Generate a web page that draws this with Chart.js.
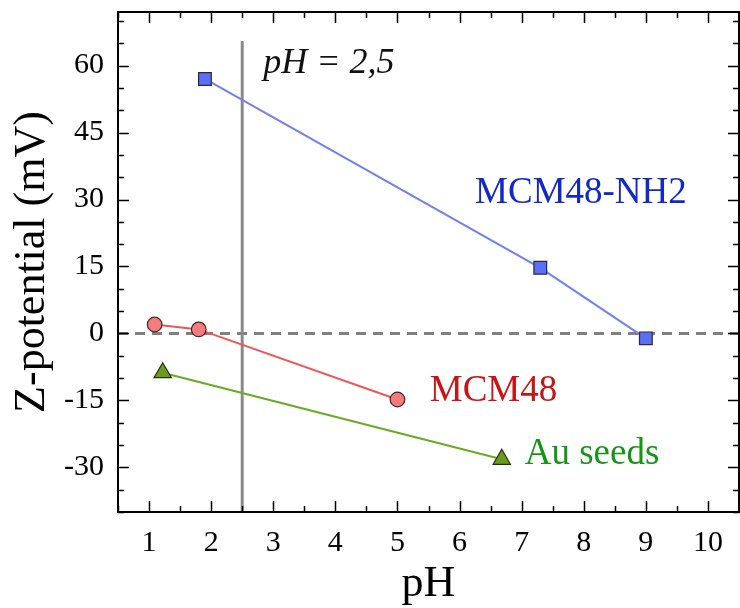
<!DOCTYPE html>
<html>
<head>
<meta charset="utf-8">
<script src="https://cdn.jsdelivr.net/npm/chart.js@4.4.1/dist/chart.umd.min.js"></script>
<style>
  html, body { margin: 0; padding: 0; background: #fff; }
  #wrap { width: 740px; height: 608px; }
</style>
</head>
<body>
<div id="wrap"><canvas id="zetaChart" width="740" height="608"></canvas></div>
<script>
// Z-potential vs pH

const xTickValues = [1, 2, 3, 4, 5, 6, 7, 8, 9, 10];
const yTickValues = [-30, -15, 0, 15, 30, 45, 60];

const nh2Ph = [1.9, 7.3, 9.0];
const nh2Zeta = [57, 14.7, -1.1];

const mcmPh = [1.09, 1.8, 5.0];
const mcmZeta = [2.0, 0.9, -14.8];

const auPh = [1.22, 6.68];
const auZeta = [-8.8, -28.2];

const markerPh = [2.5, 2.5];
const markerZeta = [-40, 65.5];

const zeroPh = [0.5, 10.5];
const zeroZeta = [0, 0];

const serif = '"Liberation Serif", "Times New Roman", serif';

function toPoints(xs, ys) {
  return xs.map((x, i) => ({ x: x, y: ys[i] }));
}

// inward ticks on all four sides + frame + text labels
const framePlugin = {
  id: 'framePlugin',
  afterDatasetsDraw(chart) {
    const { ctx, chartArea: a, scales: { x, y } } = chart;
    ctx.save();
    ctx.strokeStyle = '#000';
    ctx.lineWidth = 1.5;
    ctx.beginPath();
    const xStep = 0.5, yStep = 5;
    for (let v = x.min; v <= x.max + 1e-6; v += xStep) {
      const px = Math.round(x.getPixelForValue(v)) + 0.5;
      const len = Number.isInteger(v) ? 11 : 6;
      ctx.moveTo(px, a.bottom); ctx.lineTo(px, a.bottom - len);
      ctx.moveTo(px, a.top); ctx.lineTo(px, a.top + len);
    }
    for (let v = Math.ceil(y.min / yStep) * yStep; v <= y.max + 1e-6; v += yStep) {
      const py = Math.round(y.getPixelForValue(v)) + 0.5;
      const len = v % 15 === 0 ? 11 : 6;
      ctx.moveTo(a.left, py); ctx.lineTo(a.left + len, py);
      ctx.moveTo(a.right, py); ctx.lineTo(a.right - len, py);
    }
    ctx.stroke();
    ctx.lineWidth = 2;
    ctx.strokeRect(a.left, a.top, a.right - a.left, a.bottom - a.top);

    ctx.textBaseline = 'alphabetic';
    ctx.textAlign = 'left';
    ctx.font = 'italic 36px ' + serif;
    ctx.fillStyle = '#111';
    ctx.fillText('pH = 2,5', x.getPixelForValue(2.84), y.getPixelForValue(58.3));
    ctx.font = '37px ' + serif;
    ctx.fillStyle = '#1428c8';
    ctx.fillText('MCM48-NH2', x.getPixelForValue(6.25), y.getPixelForValue(29.3));
    ctx.fillStyle = '#c81414';
    ctx.fillText('MCM48', x.getPixelForValue(5.52), y.getPixelForValue(-15.05));
    ctx.fillStyle = '#149614';
    ctx.fillText('Au seeds', x.getPixelForValue(7.05), y.getPixelForValue(-29.3));
    ctx.restore();
  }
};

new Chart(document.getElementById('zetaChart'), {
  type: 'scatter',
  data: {
    datasets: [{
      label: 'MCM48-NH2',
      data: toPoints(nh2Ph, nh2Zeta),
      showLine: true,
      borderColor: '#6f80f2',
      borderWidth: 2,
      pointStyle: 'rect',
      pointRadius: 9,
      pointBackgroundColor: '#5a6ef6',
      pointBorderColor: '#2a2a3a',
      pointBorderWidth: 1.2
    },
    {
      label: 'MCM48',
      data: toPoints(mcmPh, mcmZeta),
      showLine: true,
      borderColor: '#ee5555',
      borderWidth: 2,
      pointStyle: 'circle',
      pointRadius: 7.3,
      pointBackgroundColor: '#f77b7b',
      pointBorderColor: '#3a2a2a',
      pointBorderWidth: 1.2
    },
    {
      label: 'Au seeds',
      data: toPoints(auPh, auZeta),
      showLine: true,
      borderColor: '#6aaa22',
      borderWidth: 2,
      pointStyle: 'triangle',
      pointRadius: 10,
      pointBackgroundColor: '#6b9b1c',
      pointBorderColor: '#233010',
      pointBorderWidth: 1.2
    },
    {
      label: 'pH 2.5',
      data: toPoints(markerPh, markerZeta),
      showLine: true,
      borderColor: '#8a8a8a',
      borderWidth: 3,
      pointRadius: 0
    },
    {
      label: 'zero',
      data: toPoints(zeroPh, zeroZeta),
      showLine: true,
      borderColor: '#808080',
      borderWidth: 3,
      borderDash: [10, 7],
      pointRadius: 0
    }]
  },
  options: {
    responsive: false,
    animation: false,
    events: [],
    layout: { autoPadding: false, padding: { top: 12, right: 1, left: 0, bottom: 0 } },
    plugins: {
      legend: { display: false },
      tooltip: { enabled: false }
    },
    scales: {
      x: {
        type: 'linear',
        min: 0.5,
        max: 10.5,
        afterBuildTicks: (scale) => { scale.ticks = xTickValues.map(v => ({ value: v })); },
        afterFit: (scale) => {
          scale.height = 96;
          scale.paddingLeft = 0;
          scale.paddingRight = 0;
        },
        grid: { display: false, drawTicks: false },
        border: { display: false },
        ticks: {
          color: '#000',
          padding: 13,
          maxRotation: 0,
          font: { family: serif, size: 30 }
        },
        title: {
          display: true,
          text: 'pH',
          color: '#000',
          font: { family: serif, size: 44, lineHeight: 1 },
          padding: { top: 0, bottom: 2 }
        }
      },
      y: {
        type: 'linear',
        min: -40,
        max: 72,
        afterBuildTicks: (scale) => { scale.ticks = yTickValues.map(v => ({ value: v })); },
        afterFit: (scale) => {
          scale.width = 118;
          scale.paddingTop = 0;
          scale.paddingBottom = 0;
        },
        grid: { display: false, drawTicks: false },
        border: { display: false },
        ticks: {
          color: '#000',
          padding: 14,
          font: { family: serif, size: 30 }
        },
        title: {
          display: true,
          text: 'Z-potential (mV)',
          color: '#000',
          font: { family: serif, size: 44, lineHeight: 1 },
          padding: { top: 10, bottom: 0 }
        }
      }
    }
  },
  plugins: [framePlugin]
});
</script>
</body>
</html>
